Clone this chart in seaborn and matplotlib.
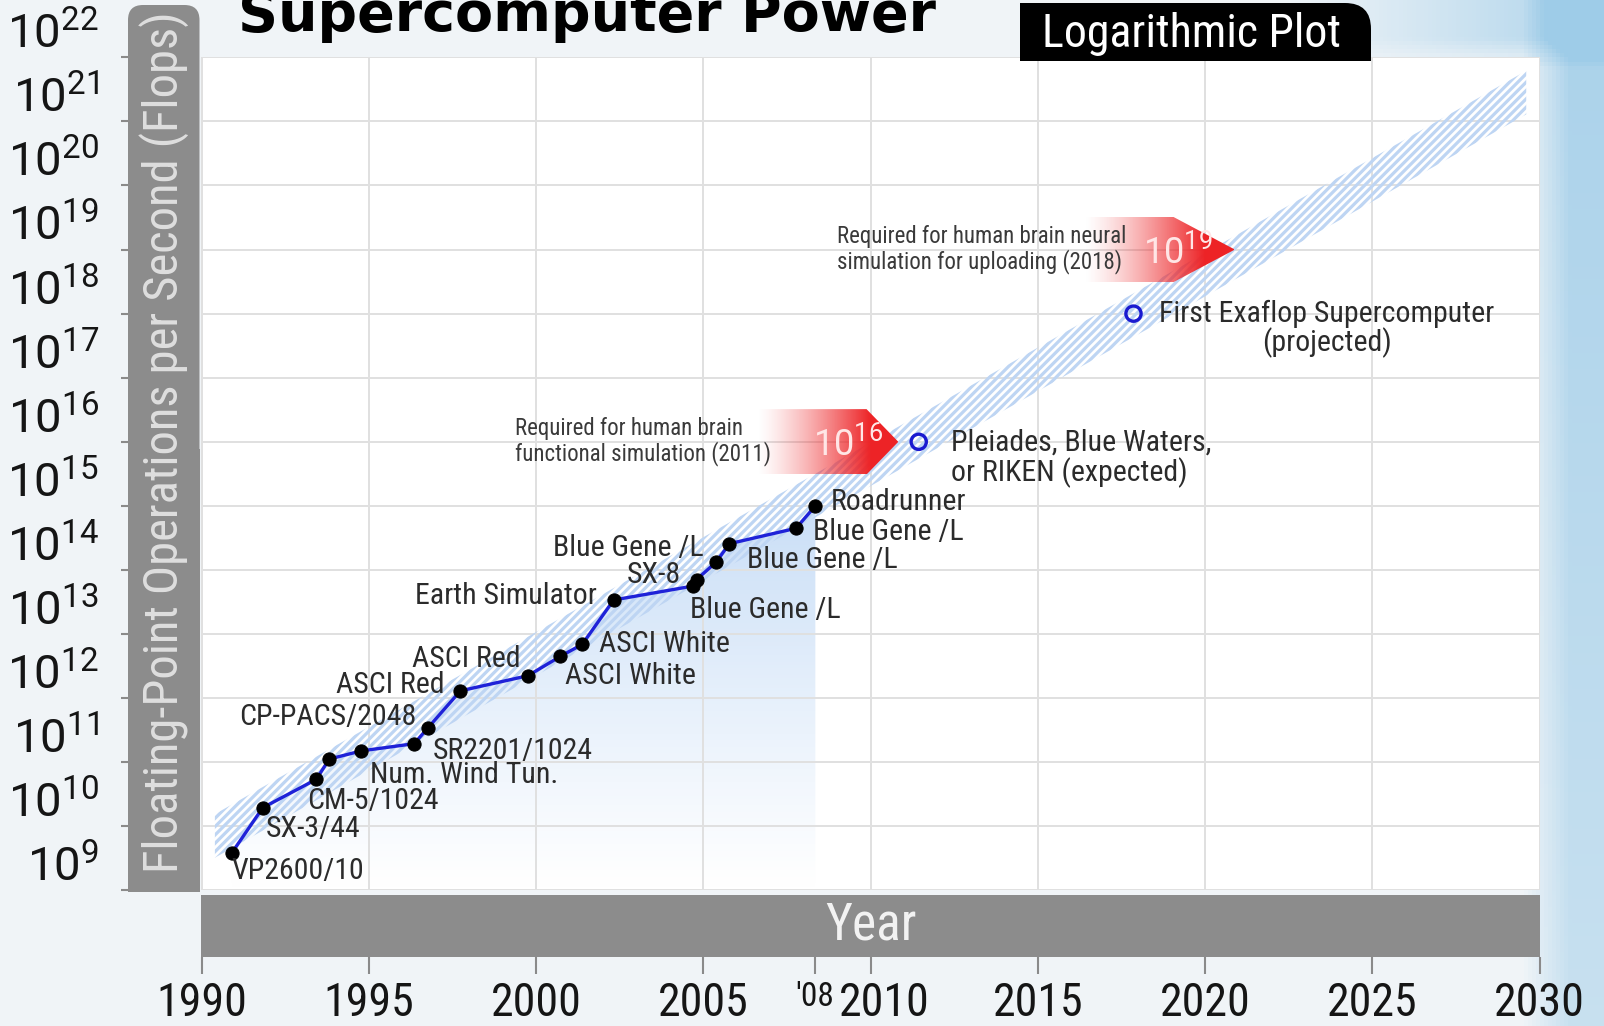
# Supercomputer power over time, log plot, recreated with seaborn / matplotlib

import numpy as np
import matplotlib
matplotlib.use("Agg")
import matplotlib.pyplot as plt
import matplotlib.transforms as mtransforms
from matplotlib.patches import FancyBboxPatch, Rectangle, Polygon
import seaborn as sns


# ---- values ----
years = [1990.9, 1991.83, 1993.43, 1993.82, 1994.77, 1996.36, 1996.76, 1997.74,
         1999.76, 2000.73, 2001.38, 2002.32, 2004.68, 2004.80, 2005.38, 2005.78,
         2007.77, 2008.35]
flops = [3.8e9, 1.95e10, 5.4e10, 1.12e11, 1.5e11, 1.95e11, 3.4e11, 1.3e12,
         2.24e12, 4.5e12, 6.9e12, 3.4e13, 5.6e13, 7.1e13, 1.32e14, 2.57e14,
         4.47e14, 1.0e15]
machines = ["VP2600/10", "SX-3/44", "CM-5/1024", "", "Num. Wind Tun.",
            "SR2201/1024", "CP-PACS/2048", "ASCI Red", "ASCI Red", "ASCI White",
            "ASCI White", "Earth Simulator", "Blue Gene /L", "SX-8",
            "Blue Gene /L", "Blue Gene /L", "Blue Gene /L", "Roadrunner"]

proj_years = [2011.44, 2017.86]
proj_flops = [1e16, 1e18]
proj_text = ["Pleiades, Blue Waters,\nor RIKEN (expected)",
             "First Exaflop Supercomputer\n(projected)"]

brain_flops = [1e16, 1e19]
brain_exp = ["16", "19"]
brain_text = ["Required for human brain\nfunctional simulation (2011)",
              "Required for human brain neural\nsimulation for uploading (2018)"]

trend_years = [1990.4, 2029.6]
trend_flops = [10 ** 9.85, 10 ** 21.45]

x_ticks = [1990, 1995, 2000, 2005, 2010, 2015, 2020, 2025, 2030]
y_powers = list(range(9, 23))

# ---- layout / style (reference pixels) ----
label_offsets = [(0, -17, "left"), (3, -21, "left"), (-9, -21, "left"), (0, 0, "left"),
                 (9, -24, "left"), (18, -7, "left"), (-11, 11, "right"), (-16, 6, "right"),
                 (-7, 16, "right"), (4, -19, "left"), (16, 0, "left"), (-16, 4, "right"),
                 (-3, -23, "left"), (-15, 4, "right"), (30, 2, "left"), (-25, -4, "right"),
                 (17, -4, "left"), (15, 4, "left")]
arrow_geom = [(2006.6, 2009.88, 2010.83), (2016.39, 2019.05, 2020.89)]
brain_text_x = [1999.36, 2008.99]
brain_num_x = [2008.29, 2018.13]

W, H = 1604, 1026
PX = 72 / 100 * 1.023  # displayed-ref px -> points

sns.set_style("white")
FONT = ["Roboto Condensed", "Roboto", "DejaVu Sans"]
plt.rcParams["font.family"] = FONT
plt.rcParams["font.stretch"] = "condensed"
plt.rcParams["mathtext.fontset"] = "custom"
plt.rcParams["mathtext.rm"] = "Roboto:stretch=condensed"
plt.rcParams["mathtext.it"] = "Roboto:stretch=condensed"
plt.rcParams["hatch.linewidth"] = 2.3

fig = plt.figure(figsize=(W / 100, H / 100), dpi=100)

# background wash
bg = fig.add_axes([0, 0, 1, 1], zorder=-10)
bg.axis("off")
xx = np.linspace(0, 1, 400)[None, :]
yy = np.linspace(0, 1, 250)[:, None]
w = np.clip((xx - 0.95) / 0.03, 0, 1) * (0.85 - 0.35 * yy)
w = w + np.clip((0.065 - yy) / 0.03, 0, 1) * np.clip((xx - 0.8) / 0.15, 0, 1) * 0.6
w = np.clip(w, 0, 1)[..., None]
base = np.array([0.945, 0.96, 0.972])
blue = np.array([0.62, 0.80, 0.91])
bg.imshow(base * (1 - w) + blue * w, extent=[0, 1, 0, 1], aspect="auto")

# main axes
ax_l, ax_r, ax_t, ax_b = 201.5, 1539.6, 57.3, 890.4
ax = fig.add_axes([ax_l / W, 1 - ax_b / H, (ax_r - ax_l) / W, (ax_b - ax_t) / H])
ax.set_facecolor("white")
ax.set_yscale("log")
ax.set_xlim(1990, 2030)
ax.set_ylim(1e9, 1e22)
ax.set_autoscale_on(False)
ax.grid(True, which="major", color="#e0e0e0", lw=1.4)
ax.set_axisbelow(True)

# light blue wash under the record line
poly = ax.fill_between(years, flops, 1e9, color="none", lw=0)
g = np.linspace(0, 1, 256)[:, None]
rgba = np.zeros((256, 1, 4))
rgba[..., :3] = (0.77, 0.86, 0.965)
rgba[..., 3] = np.clip(g / 0.5, 0, 1) ** 1.1
im = ax.imshow(rgba, extent=[0, 1, 0, 1], transform=ax.transAxes, origin="lower",
               aspect="auto", zorder=0.2)
im.set_clip_path(poly.get_paths()[0], ax.transData)

# hatched trend band
lo = [f / 10 ** 0.34 for f in trend_flops]
hi = [f * 10 ** 0.34 for f in trend_flops]
ax.fill_between(trend_years, lo, hi, facecolor="none", edgecolor="#bed5f3",
                hatch="////", lw=0, zorder=0.8)

# red "required" arrows
for (x0, xs, xt), f, ex, txt, tx, nx in zip(arrow_geom, brain_flops, brain_exp,
                                            brain_text, brain_text_x, brain_num_x):
    a, b = f / 10 ** 0.51, f * 10 ** 0.51
    shape = Polygon([(x0, a), (xs, a), (xt, f), (xs, b), (x0, b)], closed=True,
                    facecolor="none", edgecolor="none", transform=ax.transData)
    ax.add_patch(shape)
    u = np.linspace(0, 1, 256)[None, :]
    red = np.zeros((2, 256, 4))
    red[..., :3] = (0.93, 0.14, 0.15)
    red[..., 3] = np.clip(u / 0.8, 0, 1) ** 1.3
    rim = ax.imshow(red, extent=[x0, xt, a, b], aspect="auto", zorder=3,
                    interpolation="bilinear")
    rim.set_clip_path(shape)
    ax.text(tx, f, txt, fontsize=16.5, color="#3a3a3a", ha="left", va="center",
            linespacing=1.05, zorder=4)
    ax.text(nx, f / 10 ** 0.04, "$10^{%s}$" % ex, fontsize=26, color="#ffe6e6",
            ha="left", va="center", zorder=4)

# record line
sns.lineplot(x=years, y=flops, ax=ax, color="#1f22d8", lw=2.4, marker="o",
             markersize=9.5, markerfacecolor="black", markeredgecolor="black",
             zorder=5, sort=False)
for x, y, name, (dx, dy, ha) in zip(years, flops, machines, label_offsets):
    if name:
        ax.annotate(name, (x, y), xytext=(dx * PX, dy * PX), textcoords="offset points",
                    ha=ha, va="center", fontsize=21.5, color="#2b2b2b", zorder=6)

# projected machines
sns.scatterplot(x=proj_years, y=proj_flops, ax=ax, s=120, facecolor="none",
                edgecolor="#1a1ad0", linewidth=2.4, zorder=6)
ax.annotate(proj_text[0], (proj_years[0], proj_flops[0]), xytext=(32 * PX, -16 * PX),
            textcoords="offset points", ha="left", va="center", fontsize=21.5,
            color="#2b2b2b", linespacing=1.0)
ax.annotate(proj_text[1], (proj_years[1], proj_flops[1]), xytext=(25 * PX, -15 * PX),
            textcoords="offset points", ha="left", va="center", fontsize=21.5,
            color="#2b2b2b", multialignment="center", linespacing=1.0)

# axes ticks
for s in ax.spines.values():
    s.set_visible(False)
ax.spines["bottom"].set_position(("outward", 47.6))
ax.spines["left"].set_position(("outward", 52.9))
ax.set_xticks(x_ticks, [str(t) for t in x_ticks])
ax.set_xticks([2008.33], ["'08"], minor=True)
ax.tick_params(axis="x", which="both", bottom=True, direction="out", length=12.5,
               width=1.5, color="#8a8a8a", pad=5, labelsize=33, labelcolor="#151515")
ax.tick_params(axis="x", which="minor", labelsize=24)
ax.set_yticks([10.0 ** p for p in y_powers], ["$10^{%d}$" % p for p in y_powers])
ax.yaxis.set_minor_locator(matplotlib.ticker.NullLocator())
ax.tick_params(axis="y", left=True, direction="out", length=5, width=1.5,
               color="#8a8a8a", pad=16, labelsize=34, labelcolor="#151515")
for lab in ax.get_yticklabels():
    lab.set_va("bottom")
for lab in ax.get_xticklabels():
    if lab.get_text() == "2010":
        lab.set_transform(lab.get_transform() +
                          mtransforms.ScaledTranslation(0.14, 0, fig.dpi_scale_trans))

# grey y-label band
bx0, bx1, by0, by1 = 128, 199.5, 5, 892
fig.add_artist(FancyBboxPatch((bx0 / W, 1 - by1 / H), (bx1 - bx0) / W, (by1 - by0) / H,
                              boxstyle="round,pad=0,rounding_size=%f" % (15 / W),
                              mutation_aspect=W / H, transform=fig.transFigure,
                              facecolor="#8c8c8c", edgecolor="none"))
fig.add_artist(Rectangle((bx0 / W, 1 - by1 / H), (bx1 - bx0) / W, (by1 - by0) / H / 2,
                         transform=fig.transFigure, facecolor="#8c8c8c", edgecolor="none"))
fig.text((bx0 + bx1) / 2 / W, 1 - 442 / H, "Floating-Point Operations per Second (Flops)",
         rotation=90, ha="center", va="center", fontsize=35, color="#dedede")

# grey x-label band
fig.add_artist(Rectangle((ax_l / W, 1 - 956.5 / H), (ax_r - ax_l) / W, 61.5 / H,
                         transform=fig.transFigure, facecolor="#8c8c8c", edgecolor="none"))
fig.text((ax_l + ax_r) / 2 / W, 1 - 926 / H, "Year", ha="center", va="center",
         fontsize=37, color="#f2f2f2")

# black tab
tx0, tx1, ty0, ty1 = 1020, 1371, 3, 61
fig.add_artist(FancyBboxPatch((tx0 / W, 1 - ty1 / H), (tx1 - tx0) / W, (ty1 - ty0) / H,
                              boxstyle="round,pad=0,rounding_size=%f" % (26 / W),
                              mutation_aspect=W / H, transform=fig.transFigure,
                              facecolor="black", edgecolor="none"))
fig.add_artist(Rectangle((tx0 / W, 1 - ty1 / H), (tx1 - tx0) / W / 2, (ty1 - ty0) / H,
                         transform=fig.transFigure, facecolor="black", edgecolor="none"))
fig.add_artist(Rectangle((tx0 / W, 1 - ty1 / H), (tx1 - tx0) / W, (ty1 - ty0) / H / 2,
                         transform=fig.transFigure, facecolor="black", edgecolor="none"))
fig.text(1192 / W, 1 - 34 / H, "Logarithmic Plot", ha="center", va="center",
         fontsize=33, color="white")

# title (cut at the top edge like the original)
fig.text(238 / W, 1 - 31 / H, "Supercomputer Power", ha="left", va="baseline",
         fontsize=40, fontweight="bold", family="DejaVu Sans", stretch="normal",
         color="black")

fig.savefig("out.png", dpi=100)
